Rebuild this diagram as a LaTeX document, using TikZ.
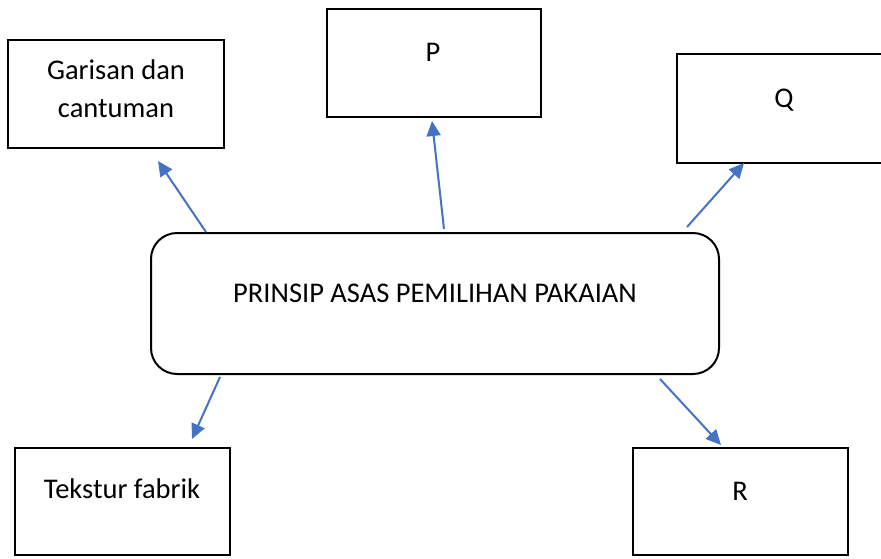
\documentclass[tikz,border=0pt]{standalone}
\usepackage{fontspec}
\setmainfont{Carlito}
\usetikzlibrary{arrows.meta}

\tikzset{
    box/.style={draw, line width=2.5pt, rectangle, inner sep=0pt},
    mainbox/.style={draw, line width=2pt, rectangle, rounded corners=26pt, inner sep=0pt, minimum width=568pt, minimum height=141pt},
    txt/.style={font=\fontsize{28.5}{38}\selectfont, anchor=base, align=center, inner sep=0pt},
    arr/.style={draw=arrowblue, line width=2pt, -{Triangle[length=15pt,width=14pt]}}
}
\definecolor{arrowblue}{HTML}{4472C4}

\begin{document}
\begin{tikzpicture}[x=1pt, y=-1pt]
        \useasboundingbox (0,0) rectangle (881,558);
        \clip (0,0) rectangle (881,558);
        \node[mainbox] (asas) at (435,303.5) {};
        \node[box, minimum width=216pt, minimum height=108pt] (garis) at (116,94) {};
        \node[box, minimum width=214pt, minimum height=108pt] (p) at (434,63) {};
        \node[box, minimum width=214pt, minimum height=109pt] (q) at (784,108.5) {};
        \node[box, minimum width=215pt, minimum height=107pt] (tekstur) at (122.5,501.5) {};
        \node[box, minimum width=215pt, minimum height=107pt] (r) at (740.5,501.5) {};
        \node[txt] (asas-t) at (435,302) {PRINSIP ASAS PEMILIHAN PAKAIAN};
        \node[txt] (garis-t) at (116,117) {Garisan dan\\cantuman};
        \node[txt] (p-t) at (433,61) {P};
        \node[txt] (q-t) at (784,107) {Q};
        \node[txt] (tekstur-t) at (122,498) {Tekstur fabrik};
        \node[txt] (r-t) at (740,500) {R};
        \coordinate (garis-a) at (158,161);
        \coordinate (p-a) at (432,121);
        \coordinate (q-a) at (744,163);
        \coordinate (tekstur-a) at (192,439);
        \coordinate (r-a) at (721,445);
        \draw[arr] ([xshift=56pt]asas.north west) -- (garis-a);
        \draw[arr] ([xshift=294pt, yshift=3pt]asas.north west) -- (p-a);
        \draw[arr] ([xshift=-33pt, yshift=5pt]asas.north east) -- (q-a);
        \draw[arr] ([xshift=70pt, yshift=-2pt]asas.south west) -- (tekstur-a);
        \draw[arr] ([xshift=-60pt, yshift=-4pt]asas.south east) -- (r-a);
\end{tikzpicture}
\end{document}
